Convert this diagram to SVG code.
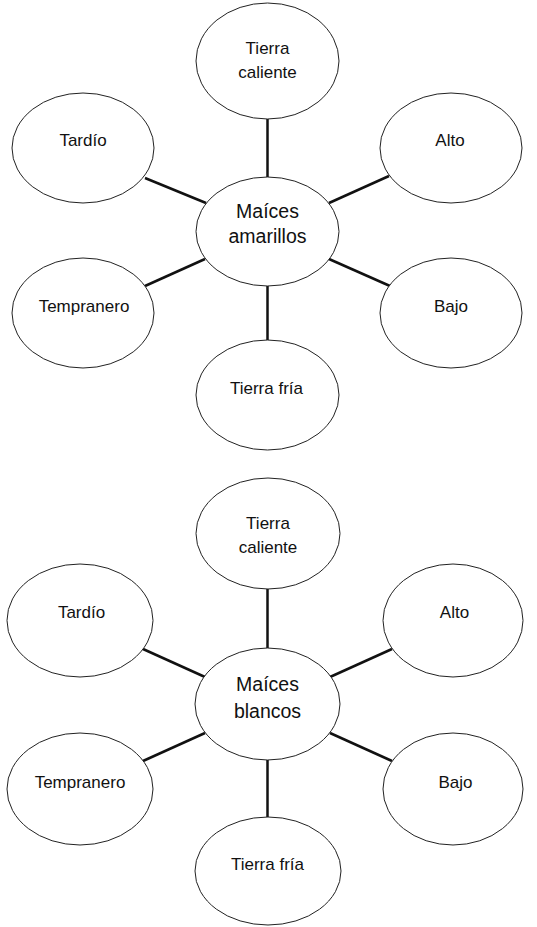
<svg xmlns="http://www.w3.org/2000/svg" width="537" height="927" viewBox="0 0 537 927">
<style>
.n{fill:#fff;stroke:#222;stroke-width:1}
.t{font-family:"Liberation Sans",Arial,sans-serif;font-size:17px;fill:#111;text-anchor:middle}
.c{font-size:19.5px}
.e{stroke:#111;stroke-width:2.5;fill:none}
</style>
<rect width="537" height="927" fill="#fff"/>
<g id="connectors">
<line class="e" x1="267.5" y1="119" x2="267.5" y2="177"/>
<line class="e" x1="145" y1="178" x2="206" y2="203"/>
<line class="e" x1="329" y1="203" x2="389" y2="176"/>
<line class="e" x1="205" y1="259" x2="145" y2="286"/>
<line class="e" x1="329" y1="259" x2="390" y2="286"/>
<line class="e" x1="267.5" y1="286" x2="267.5" y2="341"/>
<line class="e" x1="267.5" y1="589" x2="267.5" y2="648"/>
<line class="e" x1="143" y1="649" x2="205" y2="677"/>
<line class="e" x1="330" y1="677" x2="392" y2="649"/>
<line class="e" x1="205" y1="733" x2="143" y2="761"/>
<line class="e" x1="330" y1="733" x2="392" y2="761"/>
<line class="e" x1="267.5" y1="760" x2="267.5" y2="817"/>
</g>
<g id="a-center"><ellipse class="n" cx="267.5" cy="231.5" rx="71.5" ry="54.5"/><text class="t c" x="267.5" y="218">Maíces</text><text class="t c" x="267.5" y="243">amarillos</text></g>
<g id="a-caliente"><ellipse class="n" cx="267.5" cy="61" rx="71.5" ry="58"/><text class="t" x="267.5" y="54">Tierra</text><text class="t" x="267.5" y="78">caliente</text></g>
<g id="a-tardio"><ellipse class="n" cx="83" cy="148" rx="71" ry="55"/><text class="t" x="83" y="146">Tardío</text></g>
<g id="a-alto"><ellipse class="n" cx="451" cy="148" rx="71" ry="55"/><text class="t" x="450" y="146">Alto</text></g>
<g id="a-tempranero"><ellipse class="n" cx="83" cy="313" rx="71" ry="55"/><text class="t" x="84" y="312">Tempranero</text></g>
<g id="a-bajo"><ellipse class="n" cx="451" cy="313" rx="71" ry="55"/><text class="t" x="451" y="312">Bajo</text></g>
<g id="a-fria"><ellipse class="n" cx="267.5" cy="395" rx="71.5" ry="55"/><text class="t" x="266.5" y="394">Tierra fría</text></g>
<g id="b-center"><ellipse class="n" cx="267.5" cy="704" rx="72.5" ry="56"/><text class="t c" x="267.5" y="691">Maíces</text><text class="t c" x="267.5" y="718">blancos</text></g>
<g id="b-caliente"><ellipse class="n" cx="268" cy="533.5" rx="72" ry="55.5"/><text class="t" x="268" y="529">Tierra</text><text class="t" x="268" y="553">caliente</text></g>
<g id="b-tardio"><ellipse class="n" cx="80" cy="620.5" rx="73" ry="56.5"/><text class="t" x="81.5" y="618">Tardío</text></g>
<g id="b-alto"><ellipse class="n" cx="453" cy="620.5" rx="70" ry="56.5"/><text class="t" x="454.5" y="618">Alto</text></g>
<g id="b-tempranero"><ellipse class="n" cx="80" cy="789" rx="73" ry="56"/><text class="t" x="80" y="788">Tempranero</text></g>
<g id="b-bajo"><ellipse class="n" cx="453" cy="789" rx="70" ry="56"/><text class="t" x="455.5" y="788">Bajo</text></g>
<g id="b-fria"><ellipse class="n" cx="268" cy="871" rx="73" ry="54"/><text class="t" x="267.5" y="870">Tierra fría</text></g>
</svg>
